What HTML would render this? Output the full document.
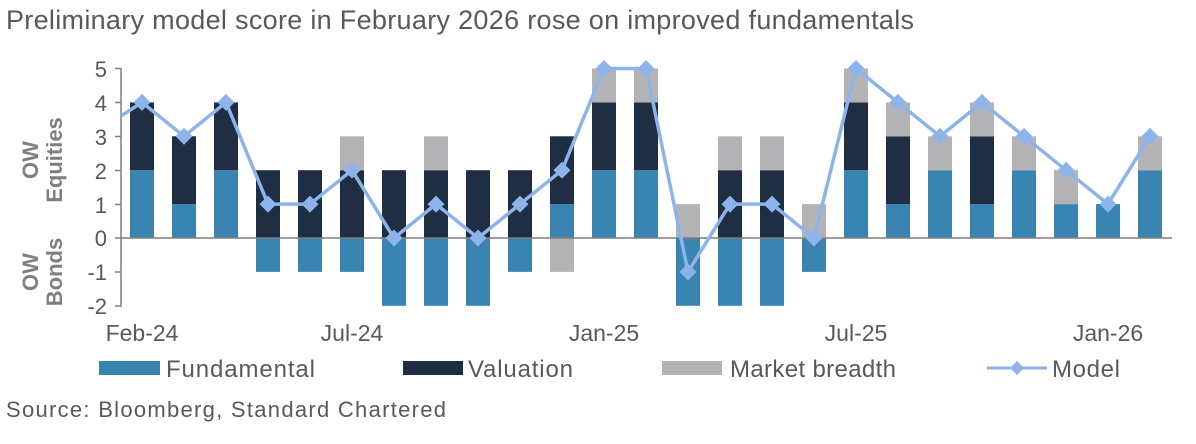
<!DOCTYPE html><html><head><style>body{margin:0;background:#fff}svg{display:block;font-family:"Liberation Sans",Arial,sans-serif}</style></head><body>
<svg width="1196" height="444" xmlns="http://www.w3.org/2000/svg">
<text x="6" y="29" font-size="27" fill="#595959" textLength="908">Preliminary model score in February 2026 rose on improved fundamentals</text>
<g id="bars"></g>
<g stroke="#7f7f7f" stroke-width="1.5">
<line x1="121" y1="68" x2="121" y2="307"/>
<line x1="121" y1="238" x2="1172" y2="238"/>
<line x1="115" y1="68.5" x2="121" y2="68.5"/><line x1="115" y1="102.5" x2="121" y2="102.5"/><line x1="115" y1="136.5" x2="121" y2="136.5"/><line x1="115" y1="170.5" x2="121" y2="170.5"/><line x1="115" y1="204.5" x2="121" y2="204.5"/><line x1="115" y1="238" x2="121" y2="238"/><line x1="115" y1="272" x2="121" y2="272"/><line x1="115" y1="306" x2="121" y2="306"/>
</g>
<g font-size="22" fill="#595959" text-anchor="end">
<text x="107" y="77">5</text><text x="107" y="111">4</text><text x="107" y="145">3</text><text x="107" y="179">2</text><text x="107" y="213">1</text><text x="107" y="246">0</text><text x="107" y="280">-1</text><text x="107" y="314">-2</text>
</g>
<g font-size="22" font-weight="bold" fill="#7f7f7f" text-anchor="middle">
<text transform="translate(38,160) rotate(-90)">OW</text>
<text transform="translate(62,160) rotate(-90)">Equities</text>
<text transform="translate(38,272) rotate(-90)">OW</text>
<text transform="translate(62,272) rotate(-90)">Bonds</text>
</g>
<g font-size="23" fill="#595959" text-anchor="middle">
<text x="142" y="341">Feb-24</text><text x="352" y="341">Jul-24</text><text x="604" y="341">Jan-25</text><text x="856" y="341">Jul-25</text><text x="1108" y="341">Jan-26</text>
</g>
<rect x="99" y="361" width="61" height="14" fill="#3a84b2"/>
<text x="166" y="377" font-size="24" fill="#595959" textLength="149">Fundamental</text>
<rect x="403" y="361" width="60" height="14" fill="#1f2e42"/>
<text x="468" y="377" font-size="24" fill="#595959" textLength="105">Valuation</text>
<rect x="662" y="361" width="60" height="14" fill="#b3b3b6"/>
<text x="730" y="377" font-size="24" fill="#595959" textLength="166">Market breadth</text>
<line x1="987" y1="368" x2="1047" y2="368" stroke="#8db4ea" stroke-width="3"/>
<rect x="1012" y="363" width="10" height="10" transform="rotate(45 1017 368)" fill="#8db4ea"/>
<text x="1052" y="377" font-size="24" fill="#595959" textLength="68">Model</text>
<text x="6" y="417" font-size="22" fill="#595959" textLength="440">Source: Bloomberg, Standard Chartered</text>
<g id="line"></g>
<script>
var d=[[2,2,0,4],[1,2,0,3],[2,2,0,4],[-1,2,0,1],[-1,2,0,1],[-1,2,1,2],[-2,2,0,0],[-2,2,1,1],[-2,2,0,0],[-1,2,0,1],[1,2,-1,2],[2,2,1,5],[2,2,1,5],[-2,0,1,-1],[-2,2,1,1],[-2,2,1,1],[-1,0,1,0],[2,2,1,5],[1,2,1,4],[2,0,1,3],[1,2,1,4],[2,0,1,3],[1,0,1,2],[1,0,0,1],[2,0,1,3]];
var U=33.9,Z=238,ns="http://www.w3.org/2000/svg",b=document.getElementById("bars"),l=document.getElementById("line");
function r(x,y0,y1,c){var e=document.createElementNS(ns,"rect");e.setAttribute("x",x);e.setAttribute("width",24);e.setAttribute("y",Z-Math.max(y0,y1)*U);e.setAttribute("height",Math.abs(y1-y0)*U);e.setAttribute("fill",c);b.appendChild(e);}
var pts=["121,"+(Z-3.6*U)];
d.forEach(function(v,i){var x=130+42*i,cx=x+12;var pos=0,neg=0;
[[v[0],"#3a84b2"],[v[1],"#1f2e42"],[v[2],"#b3b3b6"]].forEach(function(s){if(s[0]>0){r(x,pos,pos+s[0],s[1]);pos+=s[0];}else if(s[0]<0){r(x,neg,neg+s[0],s[1]);neg+=s[0];}});
pts.push(cx+","+(Z-v[3]*U));});
var p=document.createElementNS(ns,"polyline");p.setAttribute("points",pts.join(" "));p.setAttribute("fill","none");p.setAttribute("stroke","#8db4ea");p.setAttribute("stroke-width","3.5");l.appendChild(p);
d.forEach(function(v,i){var cx=142+42*i,cy=Z-v[3]*U;var m=document.createElementNS(ns,"rect");m.setAttribute("x",cx-6);m.setAttribute("y",cy-6);m.setAttribute("width",12);m.setAttribute("height",12);m.setAttribute("fill","#8db4ea");m.setAttribute("transform","rotate(45 "+cx+" "+cy+")");l.appendChild(m);});
</script>
</svg></body></html>
